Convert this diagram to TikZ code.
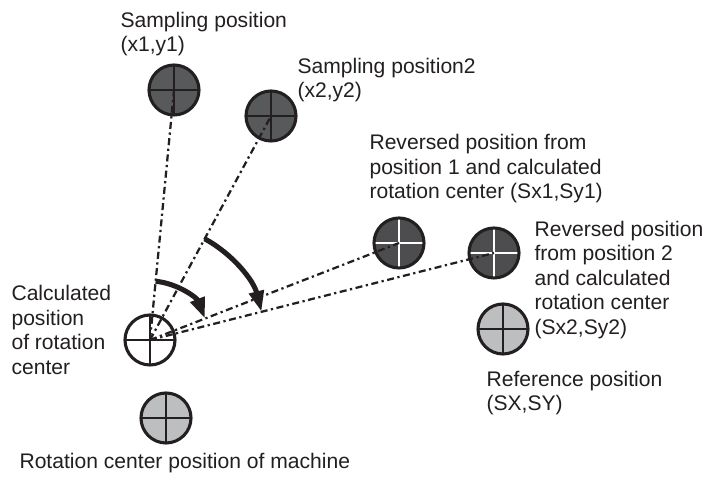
\documentclass[tikz,border=0pt]{standalone}
\usepackage{fontspec}
\setmainfont{Liberation Sans}
\usetikzlibrary{arrows.meta, calc}
\definecolor{samp}{RGB}{88,89,91}
\definecolor{rev}{RGB}{77,77,79}
\definecolor{refg}{RGB}{188,190,192}
\definecolor{ink}{RGB}{35,31,32}

\begin{document}
\begin{tikzpicture}[>=Stealth, font=\fontsize{15}{17.4}\selectfont, line width=2.2pt]
\tikzset{pos/.style={draw=ink, circle, minimum size=1.25cm, inner sep=0pt, fill=#1}, cross/.style={path picture={\draw[#1, line width=2pt] (path picture bounding box.north) -- (path picture bounding box.south) (path picture bounding box.west) -- (path picture bounding box.east);}}, lbl/.style={anchor=west, align=left, inner sep=0pt, text=ink}, ray/.style={line width=1.6pt, draw=ink, dash pattern=on 5pt off 2.5pt on 1.6pt off 2.5pt}, turn/.style={line width=3.6pt, draw=ink, -{Triangle[length=0.52cm, width=0.36cm]}}}
\useasboundingbox (0,0) rectangle (17.575,11.925);
% positions
\node[pos=white, cross=ink] (C) at (3.75,3.425) {};
\node[pos=refg, cross=ink] (M) at (4.15,1.475) {};
\node[pos=samp, cross=ink] (S1) at (4.35,9.675) {};
\node[pos=samp, cross=ink] (S2) at (6.775,9.025) {};
\node[pos=rev, cross=white] (R1) at (9.975,5.85) {};
\node[pos=rev, cross=white] (R2) at (12.35,5.6) {};
\node[pos=refg, cross=ink] (Ref) at (12.575,3.7) {};
% labels
\node[lbl] (LS1) at (2.975,11.075) {Sampling position\\(x1,y1)};
\node[lbl] (LS2) at (7.4,9.925) {Sampling position2\\(x2,y2)};
\node[lbl] (LR1) at (9.2,7.7) {Reversed position from\\position 1 and calculated\\rotation center (Sx1,Sy1)};
\node[lbl] (LR2) at (13.325,4.925) {Reversed position\\from position 2\\and calculated\\rotation center\\(Sx2,Sy2)};
\node[lbl] (LRef) at (12.125,2.1) {Reference position\\(SX,SY)};
\node[lbl] (LC) at (0.25,3.675) {Calculated\\position\\of rotation\\center};
\node[lbl] (LM) at (0.45,0.35) {Rotation center position of machine};
% rays and rotations
\foreach \t in {S1,S2,R1,R2} \draw[ray] (C.center) -- (\t.center);
\draw[turn] ($(C.center)+(84.5:1.475)$) arc[start angle=84.5, end angle=21.3, radius=1.475];
\draw[turn] ($(C.center)+(61.6:2.875)$) arc[start angle=61.6, end angle=14.2, radius=2.875];
\end{tikzpicture}
\end{document}
